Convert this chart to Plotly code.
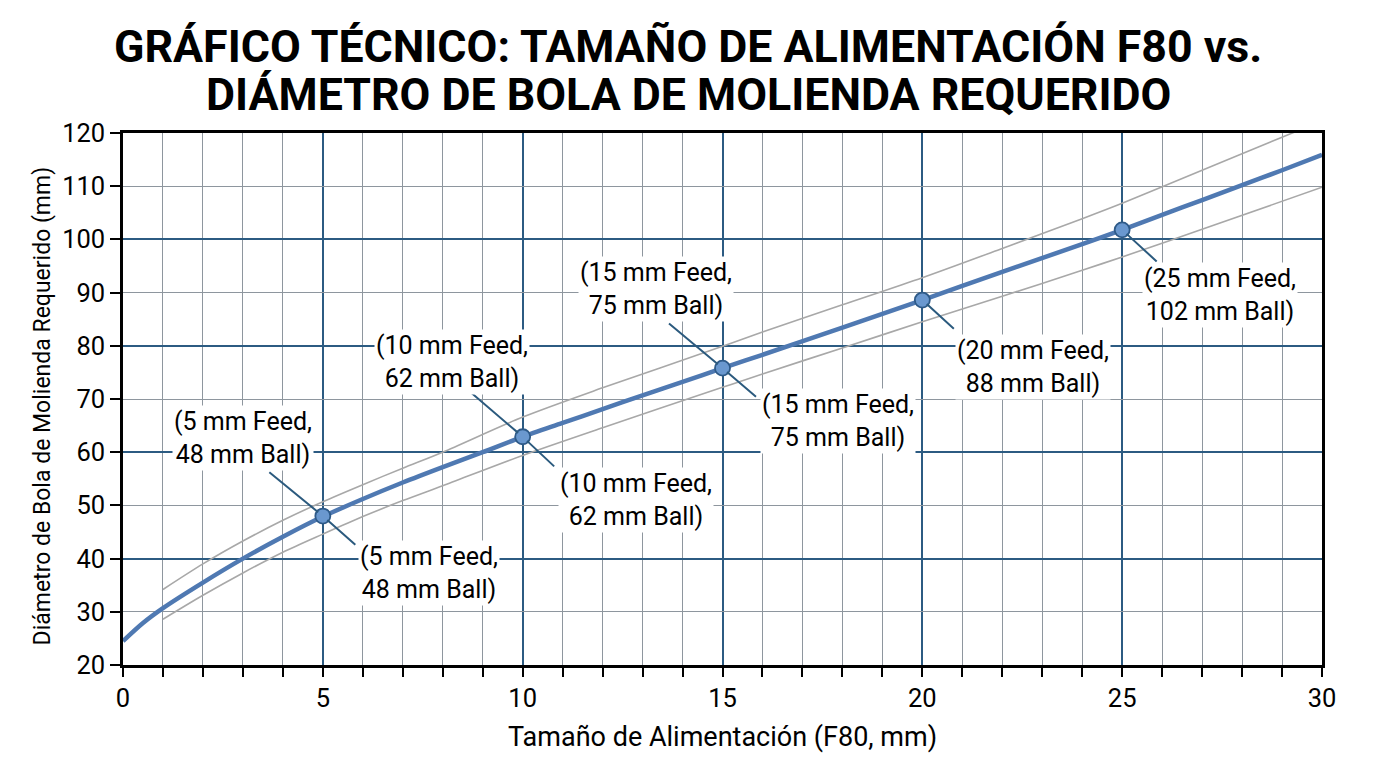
import plotly.graph_objects as go

# ---------------- data ----------------
feed_main = [0, 0.5, 1, 2, 3, 4, 5, 6, 7, 8, 9, 10, 11, 12, 13, 14, 15, 16, 18, 20,
             22, 24, 25, 26, 27, 28, 29, 30]
ball_main = [24.5, 27.9, 30.7, 35.5, 40.0, 44.1, 47.9, 51.2, 54.3, 57.2, 60.0, 62.9,
             65.5, 68.1, 70.7, 73.2, 75.8, 78.3, 83.4, 88.6, 93.9, 99.1, 101.8,
             104.6, 107.4, 110.2, 113.0, 115.9]

feed_upper = [1, 2, 3, 4, 5, 6, 7, 8, 10, 12, 15, 16, 18, 20, 22, 24, 25, 27, 29, 30]
ball_upper = [34.2, 39.0, 43.3, 47.2, 50.7, 53.9, 57.0, 60.0, 66.6, 72.1, 79.9, 82.6,
              87.7, 92.8, 98.3, 103.9, 106.8, 113.0, 119.2, 122.3]

feed_lower = [1, 2, 3, 4, 5, 6, 7, 8, 10, 12, 15, 16, 18, 20, 22, 24, 25, 27, 30]
ball_lower = [28.6, 33.1, 37.3, 41.2, 44.6, 47.9, 50.9, 53.7, 59.4, 64.6, 72.2, 74.7,
              79.6, 84.5, 89.3, 94.2, 96.7, 101.9, 109.8]

point_feed = [5, 10, 15, 20, 25]
point_ball = [48.0, 62.9, 75.8, 88.6, 101.8]
label_ball = [48, 62, 75, 88, 102]
upper_label_feeds = [5, 10, 15]

x_tick_vals = [0, 5, 10, 15, 20, 25, 30]
y_tick_vals = [20, 30, 40, 50, 60, 70, 80, 90, 100, 110, 120]
y_major_vals = [40, 60, 80, 100]

title_lines = ["GRÁFICO TÉCNICO: TAMAÑO DE ALIMENTACIÓN F80 vs.",
               "DIÁMETRO DE BOLA DE MOLIENDA REQUERIDO"]
x_title = "Tamaño de Alimentación (F80, mm)"
y_title = "Diámetro de Bola de Molienda Requerido (mm)"

# ---------------- styles ----------------
FONT = "Roboto, 'Noto Sans', Arial, sans-serif"
MAIN_COLOR = "#4f79b2"
BAND_COLOR = "#a8a8a8"
MAJOR_GRID = "#2c5b82"
MINOR_GRID = "#8e969e"
LEADER = "#2b5a7e"
LABEL_SIZE = 25

# label placement (pixel offsets from the point: xshift, yshift)
upper_label_shift = {5: (-80, 78), 10: (-71, 75), 15: (-67, 79)}
lower_label_shift = {5: (106, -57), 10: (113, -63), 15: (115, -53), 20: (111, -67), 25: (98, -65)}
upper_leader = {5: (-55, -45), 10: (-55, -47), 15: (-55, -46)}
lower_leader = {5: (34, 30), 10: (33, 31), 15: (35, 30), 20: (33, 30), 25: (36, 33)}

fig = go.Figure()

fig.add_trace(go.Scatter(x=feed_upper, y=ball_upper, mode="lines",
                         line=dict(color=BAND_COLOR, width=1.6, shape="spline", smoothing=0.8),
                         hoverinfo="skip"))
fig.add_trace(go.Scatter(x=feed_lower, y=ball_lower, mode="lines",
                         line=dict(color=BAND_COLOR, width=1.6, shape="spline", smoothing=0.8),
                         hoverinfo="skip"))
fig.add_trace(go.Scatter(x=feed_main, y=ball_main, mode="lines",
                         line=dict(color=MAIN_COLOR, width=4.5, shape="spline", smoothing=0.8)))
fig.add_trace(go.Scatter(x=point_feed, y=point_ball, mode="markers", yaxis="y2",
                         marker=dict(size=15, color="#6a98cf",
                                     line=dict(color="#2e5a88", width=1.8))))

annotations = []
# leader lines
for f, b in zip(point_feed, point_ball):
    legs = [lower_leader[f]]
    if f in upper_label_feeds:
        legs.insert(0, upper_leader[f])
    for ax, ay in legs:
        annotations.append(dict(x=f, y=b, xref="x", yref="y", text="", showarrow=True,
                                arrowhead=0, arrowwidth=2, arrowcolor=LEADER,
                                ax=ax, ay=ay, standoff=6))
# labels (white background boxes)
for f, b, lb in zip(point_feed, point_ball, label_ball):
    txt = f"({f} mm Feed,<br>{lb} mm Ball)"
    shifts = []
    if f in upper_label_feeds:
        shifts.append(upper_label_shift[f])
    shifts.append(lower_label_shift[f])
    for xs, ys in shifts:
        annotations.append(dict(x=f, y=b, xref="x", yref="y", text=txt, showarrow=False,
                                xshift=xs, yshift=ys, xanchor="center", yanchor="middle",
                                align="center", bgcolor="white", borderpad=1,
                                font=dict(family=FONT, size=LABEL_SIZE, color="black")))

# title (two lines, centred on the page)
for i, line in enumerate(title_lines):
    annotations.append(dict(x=(688 - 123) / 1199, y=1, xref="paper", yref="paper",
                            text=f"<b>{line}</b>",
                            showarrow=False, xanchor="center", yanchor="middle",
                            yshift=(133 - 47) - i * 48,
                            font=dict(family=FONT, size=44.7, color="black")))

annotations.append(dict(x=0.5, y=0, xref="paper", yref="paper", text=x_title,
                        showarrow=False, yshift=-72, xanchor="center", yanchor="middle",
                        font=dict(family=FONT, size=27, color="black")))
annotations.append(dict(x=0, y=0.486, xref="paper", yref="paper", text=y_title,
                        showarrow=False, xshift=-81, textangle=-90,
                        xanchor="center", yanchor="middle",
                        font=dict(family=FONT, size=23, color="black")))

fig.update_layout(
    width=1376, height=768, autosize=False,
    margin=dict(l=123, r=54, t=133, b=103),
    paper_bgcolor="white", plot_bgcolor="white",
    font=dict(family=FONT, color="black", size=24),
    showlegend=False,
    xaxis=dict(range=[0, 30], tickvals=x_tick_vals, showgrid=True, gridcolor=MAJOR_GRID,
               gridwidth=1.6, showline=True, linecolor="black", linewidth=2.5, mirror=True,
               ticks="outside", ticklen=9, tickwidth=1.6, tickcolor="black",
               minor=dict(dtick=1, tick0=0, showgrid=True, gridcolor=MINOR_GRID, gridwidth=1.2,
                          ticks="outside", ticklen=9, tickwidth=1.6, tickcolor="black"),
               zeroline=False, tickfont=dict(family=FONT, size=25.5, color="black")),
    yaxis=dict(range=[20, 120], tickvals=y_tick_vals, showgrid=True, gridcolor=MINOR_GRID,
               gridwidth=1.2, showline=True, linecolor="black", linewidth=2.5, mirror=True,
               ticks="outside", ticklen=10, tickwidth=1.6, tickcolor="black",
               zeroline=False, tickfont=dict(family=FONT, size=25.5, color="black")),
    yaxis2=dict(range=[20, 120], overlaying="y", side="left", tickvals=y_major_vals,
                showgrid=True, gridcolor=MAJOR_GRID, gridwidth=1.6, showticklabels=False,
                ticks="", showline=False, zeroline=False),
    annotations=annotations,
)

fig.write_html("out.html")
